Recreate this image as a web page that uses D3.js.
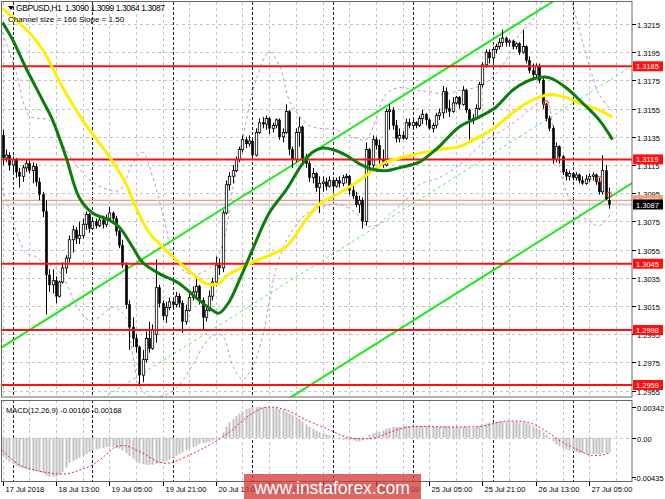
<!DOCTYPE html>
<html><head><meta charset="utf-8">
<script src="https://cdn.jsdelivr.net/npm/d3@7/dist/d3.min.js"></script>
<style>
body{margin:0;background:#fff}
svg{display:block}
text{font-family:"Liberation Sans",Arial,sans-serif;white-space:pre}
</style>
</head><body>
<svg id="c" width="665" height="499"></svg>
<script>
// ---------- DATA ----------
const symbolTitle = "GBPUSD,H1  1.3090 1.3099 1.3084 1.3087";
const channelTitle = "Channel size = 166 Slope = 1.50";
const macdTitle = "MACD(12,26,9) -0.00160 -0.00168";

// hourly candles [open, high, low, close], 17 Jul 21:00 .. 27 Jul 11:00
const candles = [
[1.3136,1.3140,1.3115,1.3120],[1.3120,1.3126,1.3117,1.3122],[1.3122,1.3124,1.3111,1.3115],[1.3115,1.3121,1.3110,1.3119],
[1.3119,1.3120,1.3106,1.3110],[1.3110,1.3113,1.3099,1.3107],[1.3107,1.3115,1.3103,1.3113],[1.3113,1.3119,1.3110,1.3116],
[1.3116,1.3118,1.3109,1.3111],[1.3111,1.3117,1.3102,1.3114],[1.3114,1.3116,1.3100,1.3103],[1.3103,1.3106,1.3090,1.3094],
[1.3094,1.3096,1.3078,1.3082],[1.3082,1.3090,1.3009,1.3037],[1.3037,1.3041,1.3025,1.3030],[1.3030,1.3041,1.3024,1.3033],
[1.3033,1.3036,1.3017,1.3022],[1.3022,1.3033,1.3021,1.3032],[1.3032,1.3046,1.3031,1.3042],[1.3042,1.3051,1.3038,1.3049],
[1.3049,1.3065,1.3046,1.3062],[1.3062,1.3072,1.3053,1.3069],[1.3069,1.3071,1.3059,1.3063],[1.3063,1.3075,1.3059,1.3065],
[1.3065,1.3077,1.3063,1.3073],[1.3073,1.3082,1.3069,1.3080],[1.3080,1.3081,1.3067,1.3070],[1.3070,1.3077,1.3069,1.3075],
[1.3075,1.3077,1.3070,1.3072],[1.3072,1.3078,1.3071,1.3076],[1.3076,1.3079,1.3070,1.3073],[1.3073,1.3080,1.3071,1.3077],
[1.3077,1.3085,1.3076,1.3081],[1.3081,1.3082,1.3075,1.3077],[1.3077,1.3079,1.3065,1.3068],[1.3068,1.3069,1.3056,1.3058],
[1.3058,1.3062,1.3042,1.3044],[1.3044,1.3046,1.3013,1.3016],[1.3016,1.3019,1.2984,1.3000],[1.3000,1.3007,1.2986,1.2992],
[1.2992,1.2995,1.2982,1.2986],[1.2986,1.2987,1.2958,1.2966],[1.2966,1.2984,1.2961,1.2977],[1.2977,1.2997,1.2975,1.2992],
[1.2992,1.3004,1.2982,1.2985],[1.2985,1.3002,1.2984,1.2998],[1.2995,1.3048,1.2989,1.3028],[1.3028,1.3030,1.3014,1.3017],
[1.3017,1.3019,1.3005,1.3008],[1.3008,1.3018,1.3003,1.3014],[1.3014,1.3021,1.3012,1.3018],[1.3018,1.3020,1.3013,1.3016],
[1.3016,1.3025,1.3014,1.3022],[1.3022,1.3024,1.3014,1.3017],[1.3017,1.3019,1.2996,1.3004],[1.3004,1.3016,1.3002,1.3012],
[1.3012,1.3024,1.3011,1.3021],[1.3021,1.3029,1.3019,1.3025],[1.3025,1.3036,1.3021,1.3029],[1.3029,1.3030,1.3016,1.3019],
[1.3019,1.3021,1.2998,1.3007],[1.3007,1.3016,1.3004,1.3012],[1.3012,1.3026,1.3011,1.3022],[1.3022,1.3035,1.3019,1.3032],
[1.3032,1.3050,1.3029,1.3044],[1.3044,1.3049,1.3037,1.3042],[1.3042,1.3083,1.3039,1.3081],[1.3081,1.3104,1.3080,1.3101],
[1.3101,1.3110,1.3097,1.3107],[1.3107,1.3115,1.3102,1.3111],[1.3111,1.3121,1.3110,1.3119],[1.3119,1.3128,1.3117,1.3126],
[1.3126,1.3136,1.3124,1.3133],[1.3133,1.3135,1.3127,1.3130],[1.3130,1.3136,1.3128,1.3132],[1.3132,1.3133,1.3120,1.3122],
[1.3122,1.3141,1.3121,1.3138],[1.3138,1.3148,1.3137,1.3145],[1.3145,1.3149,1.3141,1.3144],[1.3144,1.3150,1.3140,1.3148],
[1.3148,1.3149,1.3137,1.3141],[1.3141,1.3145,1.3138,1.3143],[1.3143,1.3148,1.3141,1.3147],[1.3147,1.3148,1.3133,1.3135],
[1.3135,1.3141,1.3131,1.3138],[1.3138,1.3158,1.3137,1.3153],[1.3153,1.3154,1.3122,1.3126],[1.3126,1.3128,1.3113,1.3119],
[1.3119,1.3141,1.3117,1.3138],[1.3138,1.3149,1.3128,1.3142],[1.3142,1.3143,1.3117,1.3120],[1.3120,1.3123,1.3113,1.3116],
[1.3116,1.3118,1.3103,1.3106],[1.3106,1.3113,1.3102,1.3109],[1.3109,1.3110,1.3096,1.3099],[1.3099,1.3107,1.3081,1.3102],
[1.3102,1.3107,1.3096,1.3103],[1.3103,1.3106,1.3097,1.3100],[1.3100,1.3107,1.3099,1.3104],[1.3104,1.3106,1.3096,1.3100],
[1.3100,1.3106,1.3099,1.3104],[1.3104,1.3107,1.3099,1.3102],[1.3102,1.3108,1.3100,1.3106],[1.3106,1.3109,1.3102,1.3107],
[1.3107,1.3108,1.3094,1.3097],[1.3097,1.3100,1.3091,1.3093],[1.3093,1.3096,1.3085,1.3087],[1.3087,1.3093,1.3081,1.3090],
[1.3090,1.3092,1.3070,1.3075],[1.3075,1.3131,1.3072,1.3126],[1.3126,1.3127,1.3111,1.3115],[1.3115,1.3136,1.3113,1.3133],
[1.3133,1.3135,1.3126,1.3129],[1.3129,1.3133,1.3116,1.3119],[1.3119,1.3126,1.3113,1.3115],[1.3115,1.3155,1.3114,1.3153],
[1.3153,1.3158,1.3140,1.3154],[1.3154,1.3156,1.3140,1.3143],[1.3143,1.3147,1.3131,1.3134],[1.3134,1.3141,1.3131,1.3136],
[1.3136,1.3139,1.3133,1.3134],[1.3134,1.3148,1.3133,1.3145],[1.3145,1.3148,1.3141,1.3143],[1.3143,1.3148,1.3140,1.3145],
[1.3145,1.3146,1.3141,1.3143],[1.3143,1.3150,1.3142,1.3148],[1.3148,1.3154,1.3144,1.3151],[1.3151,1.3152,1.3143,1.3147],
[1.3147,1.3148,1.3140,1.3141],[1.3141,1.3145,1.3138,1.3143],[1.3143,1.3152,1.3141,1.3150],[1.3150,1.3155,1.3147,1.3152],
[1.3152,1.3171,1.3148,1.3167],[1.3167,1.3170,1.3152,1.3155],[1.3155,1.3161,1.3149,1.3153],[1.3153,1.3163,1.3152,1.3159],
[1.3159,1.3164,1.3158,1.3163],[1.3163,1.3164,1.3155,1.3158],[1.3158,1.3171,1.3157,1.3168],[1.3168,1.3169,1.3152,1.3154],
[1.3154,1.3155,1.3133,1.3147],[1.3147,1.3151,1.3144,1.3148],[1.3148,1.3158,1.3147,1.3155],[1.3155,1.3174,1.3154,1.3172],
[1.3172,1.3188,1.3170,1.3186],[1.3186,1.3197,1.3184,1.3195],[1.3195,1.3197,1.3187,1.3191],[1.3191,1.3199,1.3188,1.3197],
[1.3197,1.3201,1.3194,1.3199],[1.3199,1.3205,1.3197,1.3202],[1.3202,1.3211,1.3199,1.3205],[1.3205,1.3206,1.3199,1.3202],
[1.3202,1.3204,1.3199,1.3203],[1.3203,1.3204,1.3197,1.3199],[1.3199,1.3202,1.3197,1.3201],[1.3201,1.3202,1.3193,1.3195],
[1.3195,1.3211,1.3194,1.3199],[1.3199,1.3200,1.3187,1.3189],[1.3189,1.3192,1.3180,1.3182],[1.3182,1.3187,1.3175,1.3179],
[1.3179,1.3187,1.3177,1.3185],[1.3185,1.3187,1.3173,1.3175],[1.3175,1.3177,1.3155,1.3158],[1.3158,1.3159,1.3146,1.3148],
[1.3148,1.3150,1.3139,1.3141],[1.3141,1.3143,1.3116,1.3119],[1.3119,1.3131,1.3117,1.3128],[1.3128,1.3129,1.3116,1.3121],
[1.3121,1.3122,1.3108,1.3110],[1.3110,1.3112,1.3104,1.3107],[1.3107,1.3111,1.3104,1.3109],[1.3109,1.3110,1.3104,1.3106],
[1.3106,1.3110,1.3104,1.3108],[1.3108,1.3109,1.3102,1.3104],[1.3104,1.3107,1.3101,1.3102],[1.3102,1.3108,1.3101,1.3105],
[1.3105,1.3109,1.3103,1.3107],[1.3107,1.3110,1.3104,1.3108],[1.3108,1.3109,1.3101,1.3103],[1.3103,1.3106,1.3094,1.3096],
[1.3096,1.3122,1.3094,1.3111],[1.3111,1.3115,1.3090,1.3091],[1.3090,1.3099,1.3084,1.3087]
];

// moving averages [bar, price]
const yellowMA = [[0,1.3226],[8,1.3209],[12,1.3197],[15,1.3184],[19,1.3166],[24,1.3147],[32,1.3121],[37,1.3102],[40,1.3085],
[44,1.3067],[48,1.3057],[53,1.3046],[57,1.3038],[61,1.3031],[65,1.3031],[67,1.3036],[75,1.3046],[85,1.3057],[91,1.3076],
[95,1.3087],[101,1.3095],[107,1.3104],[111,1.3111],[115,1.3117],[121,1.3121],[131,1.3126],[137,1.3128],[143,1.3135],
[148,1.3142],[153,1.3152],[158,1.3160],[161,1.3163],[164,1.3165],[169,1.3163],[174,1.3158],[179,1.3154],[183,1.3149]];
const greenMA = [[0,1.3216],[3,1.3204],[7,1.3184],[12,1.3161],[15,1.3147],[19,1.3121],[23,1.3092],[27,1.3081],[32,1.3076],
[35,1.3071],[39,1.3057],[42,1.3046],[47,1.3038],[53,1.3031],[58,1.3021],[63,1.3012],[65,1.3010],[68,1.3018],[71,1.3033],
[75,1.3055],[80,1.3081],[85,1.3097],[90,1.3116],[93,1.3124],[96,1.3127],[99,1.3126],[103,1.3122],[107,1.3116],[111,1.3112],
[115,1.3111],[119,1.3113],[125,1.3117],[129,1.3124],[131,1.3128],[137,1.3142],[143,1.3149],[148,1.3156],[153,1.3168],
[157,1.3174],[161,1.3177],[164,1.3177],[169,1.3170],[174,1.3159],[179,1.3147],[183,1.3133]];

// envelope bands [bar, price]
const bandUpper = [[0,1.3209],[4,1.3181],[8,1.3150],[11,1.3148],[14,1.3147],[19,1.3126],[25,1.3107],[30,1.3099],[35,1.3097],
[39,1.3116],[42,1.3124],[45,1.3107],[49,1.3071],[51,1.3051],[55,1.3039],[59,1.3038],[63,1.3044],[66,1.3058],[69,1.3097],
[72,1.3133],[76,1.3175],[80,1.3195],[83,1.3186],[86,1.3161],[89,1.3150],[92,1.3143],[95,1.3141],[100,1.3140],[104,1.3136],
[109,1.3133],[112,1.3147],[115,1.3165],[119,1.3170],[124,1.3168],[128,1.3167],[133,1.3165],[137,1.3168],[142,1.3170],
[146,1.3175],[151,1.3189],[155,1.3207],[160,1.3221],[164,1.3239],[169,1.3238],[173,1.3211],[176,1.3186],[179,1.3165],[183,1.3153]];
const bandLower = [[0,1.3099],[3,1.3076],[7,1.3053],[10,1.3050],[12,1.3046],[16,1.3042],[19,1.3032],[22,1.3016],[26,1.3005],
[29,1.3007],[33,1.3014],[37,1.3007],[39,1.2982],[41,1.2959],[44,1.2951],[49,1.2952],[53,1.2959],[58,1.2977],[60,1.2986],
[63,1.2994],[66,1.2994],[69,1.2973],[72,1.2963],[75,1.2972],[78,1.2993],[80,1.3017],[82,1.3041],[86,1.3065],[91,1.3080],
[95,1.3085],[101,1.3087],[106,1.3081],[109,1.3072],[112,1.3072],[116,1.3080],[121,1.3090],[125,1.3101],[131,1.3106],
[137,1.3115],[142,1.3126],[146,1.3134],[151,1.3141],[155,1.3148],[160,1.3158],[163,1.3161],[166,1.3126],[169,1.3097],
[172,1.3083],[176,1.3075],[179,1.3072],[183,1.3082]];

// equidistant channel anchors [bar, price]
const channelUpper = [[0,1.2986],[180,1.3253]];
const channelMiddle = [[0,1.2905],[180,1.3172]];
const channelLower = [[0,1.2822],[180,1.3089]];

// horizontal levels
const levels = [1.3185, 1.3119, 1.3045, 1.2998, 1.2959];
const markLine = 1.3090;
const bidPrice = 1.3087;
const fractalMarks = [[163,1.3159],[179,1.3105],[182,1.3094]];

// MACD histogram per bar, signal [bar, value]
const macdMain = [
-0.0021,-0.0024,-0.0027,-0.0029,-0.0031,-0.0033,-0.0034,-0.0035,-0.0036,-0.0037,-0.0037,-0.0038,-0.0039,-0.0042,-0.0043,-0.00435,
-0.0043,-0.0041,-0.0038,-0.0033,-0.0028,-0.0026,-0.0024,-0.0022,-0.0020,-0.0018,-0.0016,-0.0014,-0.0013,-0.0012,-0.0011,-0.0010,
-0.0010,-0.0010,-0.0011,-0.0012,-0.0014,-0.0017,-0.0020,-0.0023,-0.0026,-0.0028,-0.0029,-0.0030,-0.0030,-0.0030,-0.0029,-0.0028,
-0.0027,-0.0026,-0.0024,-0.0022,-0.0020,-0.0018,-0.0016,-0.0014,-0.0012,-0.0010,-0.0009,-0.0007,-0.0006,-0.0005,-0.0004,-0.0003,
-0.0002,0.0000,0.0006,0.0012,0.0017,0.0021,0.0024,0.0027,0.0030,0.0032,0.0033,0.0034,0.0034,0.00342,0.00342,0.0034,
0.0034,0.0034,0.0033,0.0032,0.0031,0.0029,0.0027,0.0025,0.0023,0.0021,0.0018,0.0015,0.0012,0.0010,0.0008,0.0006,
0.0005,0.0004,0.0003,0.0001,0.0000,-0.0001,-0.0002,-0.0002,-0.0003,-0.0003,-0.0004,-0.0004,-0.0003,0.0000,0.0003,0.0005,
0.0006,0.0007,0.0008,0.0010,0.0011,0.0012,0.0012,0.0012,0.0013,0.0013,0.0013,0.0013,0.0013,0.0013,0.0013,0.0013,
0.0012,0.0012,0.0012,0.0012,0.0013,0.0013,0.0012,0.0012,0.0012,0.0012,0.0012,0.0012,0.0011,0.0011,0.0012,0.0013,
0.0015,0.0016,0.0017,0.0017,0.0018,0.0018,0.0018,0.0018,0.0018,0.0018,0.0018,0.0017,0.0017,0.0016,0.0015,0.0013,
0.0011,0.0009,0.0006,0.0003,-0.0001,-0.0004,-0.0007,-0.0009,-0.0011,-0.0013,-0.0014,-0.0015,-0.0016,-0.0017,-0.0017,-0.0018,
-0.0018,-0.0018,-0.0018,-0.0018,-0.0017,-0.0017,-0.0016
];
const macdSignal = [[0,-0.0014],[5,-0.0030],[10,-0.0036],[14,-0.0039],[19,-0.0040],[23,-0.0036],[27,-0.0030],[31,-0.0019],
[34,-0.0010],[37,-0.0009],[42,-0.0017],[47,-0.0027],[50,-0.0028],[55,-0.0021],[63,-0.0006],[68,0.0006],[73,0.0022],
[78,0.0033],[81,0.0034],[85,0.0031],[91,0.0020],[98,0.0009],[103,0.0001],[108,-0.0001],[112,0.0000],[116,0.0006],
[122,0.0012],[134,0.0012],[144,0.0013],[150,0.0018],[156,0.0018],[160,0.0014],[164,0.0005],[168,-0.0005],[173,-0.0014],
[176,-0.0019],[180,-0.0019],[182,-0.00168]];

// axes
const priceTicks = ["1.3215","1.3195","1.3175","1.3155","1.3135","1.3115","1.3095","1.3075","1.3055","1.3035","1.3015","1.2995","1.2975","1.2955"];
const macdTicks = ["0.00342","0.00","-0.00435"];
const timeLabels = ["17 Jul 2018","18 Jul 13:00","19 Jul 05:00","19 Jul 21:00","20 Jul 13:00","23 Jul 05:00","23 Jul 21:00","24 Jul 13:00","25 Jul 05:00","25 Jul 21:00","26 Jul 13:00","27 Jul 05:00"];
const timeLabelBars = [0,16,32,48,64,80,96,112,128,144,160,176];
const daySeparatorBars = [3,27,51,75,99,123,147,171];
const watermark = "www.instaforex.com";

// ---------- DRAW ----------
const svg = d3.select("#c");
const P = {l:2, r:632, t:2, b:397};
const M = {t:400, b:481};
const x = d3.scaleLinear().domain([0,189]).range([2.5,632.5]);
const y = d3.scaleLinear().domain([1.29505,1.32306]).range([P.b,P.t]);
const ym = d3.scaleLinear().domain([-0.00435,0.00342]).range([477,407]);

const defs = svg.append("defs");
defs.append("clipPath").attr("id","cp").append("rect").attr("x",P.l).attr("y",P.t).attr("width",P.r-P.l).attr("height",P.b-P.t);
defs.append("clipPath").attr("id","cm").append("rect").attr("x",P.l).attr("y",M.t).attr("width",P.r-P.l).attr("height",M.b-M.t);

const gMain = svg.append("g").attr("clip-path","url(#cp)");
const gMacd = svg.append("g").attr("clip-path","url(#cm)");

// grids
const gridBars = d3.range(0,189,8);
[[gMain,P.t,P.b],[gMacd,M.t,M.b]].forEach(([g,t,b])=>{
  g.selectAll(null).data(gridBars).join("line")
   .attr("x1",d=>Math.round(x(d))+0.5).attr("x2",d=>Math.round(x(d))+0.5).attr("y1",t).attr("y2",b)
   .attr("stroke","#c4c4c4").attr("stroke-dasharray","3,3");
  g.selectAll(null).data(daySeparatorBars).join("line")
   .attr("x1",d=>Math.round(x(d))+0.5).attr("x2",d=>Math.round(x(d))+0.5).attr("y1",t).attr("y2",b)
   .attr("stroke","#222").attr("stroke-dasharray","3,2");
});
gMain.selectAll(null).data(priceTicks).join("line")
  .attr("x1",P.l).attr("x2",P.r).attr("y1",d=>Math.round(y(+d))+0.5).attr("y2",d=>Math.round(y(+d))+0.5)
  .attr("stroke","#c4c4c4").attr("stroke-dasharray","3,3");
gMacd.append("line").attr("x1",P.l).attr("x2",P.r).attr("y1",Math.round(ym(0))+0.5).attr("y2",Math.round(ym(0))+0.5)
  .attr("stroke","#c4c4c4").attr("stroke-dasharray","3,3");

// mark line + bid line
gMain.append("line").attr("x1",P.l).attr("x2",P.r).attr("y1",y(markLine)).attr("y2",y(markLine)).attr("stroke","#ff9a70").attr("stroke-width",1.2);
gMain.append("line").attr("x1",P.l).attr("x2",P.r).attr("y1",y(bidPrice)).attr("y2",y(bidPrice)).attr("stroke","#d0d0d0").attr("stroke-width",2);

// bands
const lineP = d3.line().x(d=>x(d[0])).y(d=>y(d[1])).curve(d3.curveCatmullRom.alpha(0.5));
[bandUpper,bandLower].forEach(b=>{
  gMain.append("path").attr("d",lineP(b)).attr("fill","none").attr("stroke","#c98be6").attr("stroke-width",1).attr("stroke-dasharray","3,3");
});

// channel
const chLine = (a, dash, col, w)=>{
  const s=(a[1][1]-a[0][1])/(a[1][0]-a[0][0]);
  const b0=-2, b1=190;
  gMain.append("line").attr("x1",x(b0)).attr("y1",y(a[0][1]+s*(b0-a[0][0])))
    .attr("x2",x(b1)).attr("y2",y(a[0][1]+s*(b1-a[0][0])))
    .attr("stroke",col).attr("stroke-width",w).attr("stroke-dasharray",dash);
};
chLine(channelUpper,null,"#22e622",2);
chLine(channelLower,null,"#22e622",2);
chLine(channelMiddle,"3,3","#55ee55",1);

// candles
const cg = gMain.append("g");
candles.forEach((c,i)=>{
  const cx = Math.round(x(i))+0.5;
  const [o,h,l,cl]=c;
  cg.append("line").attr("x1",cx).attr("x2",cx).attr("y1",y(h)).attr("y2",y(l)).attr("stroke","#000").attr("stroke-width",1);
  const top=y(Math.max(o,cl)), bot=y(Math.min(o,cl));
  const bull = cl>=o;
  cg.append("rect").attr("x",cx-1.2).attr("width",2.4).attr("y",top).attr("height",Math.max(0.8,bot-top))
    .attr("fill",bull?"#fff":"#000").attr("stroke","#000").attr("stroke-width",bull?0.8:0.4);
});

// levels
gMain.selectAll(null).data(levels).join("line")
  .attr("x1",P.l).attr("x2",P.r).attr("y1",d=>y(d)).attr("y2",d=>y(d))
  .attr("stroke","#ff1010").attr("stroke-width",2);

// MAs
gMain.append("path").attr("d",lineP(yellowMA)).attr("fill","none").attr("stroke","#ffee00").attr("stroke-width",3);
gMain.append("path").attr("d",lineP(greenMA)).attr("fill","none").attr("stroke","#0a7d0a").attr("stroke-width",3);

// fractal circles
gMain.selectAll(null).data(fractalMarks).join("circle")
  .attr("cx",d=>x(d[0])).attr("cy",d=>y(d[1])).attr("r",2.5).attr("fill","none").attr("stroke","#e04040").attr("stroke-width",1);

// MACD
gMacd.selectAll(null).data(macdMain).join("line")
  .attr("x1",(d,i)=>Math.round(x(i))+0.5).attr("x2",(d,i)=>Math.round(x(i))+0.5)
  .attr("y1",ym(0)).attr("y2",d=>ym(d)).attr("stroke","#c0c0c0").attr("stroke-width",2);
gMacd.append("path").attr("d",d3.line().x(d=>x(d[0])).y(d=>ym(d[1])).curve(d3.curveCatmullRom.alpha(0.5))(macdSignal))
  .attr("fill","none").attr("stroke","#ff2020").attr("stroke-width",1).attr("stroke-dasharray","2,2");

// frames
svg.append("rect").attr("x",1.5).attr("y",1.5).attr("width",P.r-1.5).attr("height",P.b-1.5).attr("fill","none").attr("stroke","#666").attr("stroke-width",1);
svg.append("rect").attr("x",1.5).attr("y",M.t+0.5).attr("width",P.r-1.5).attr("height",M.b-M.t).attr("fill","none").attr("stroke","#666").attr("stroke-width",1);

// price axis
const ax = svg.append("g");
priceTicks.forEach(t=>{
  const yy=Math.round(y(+t))+0.5;
  ax.append("line").attr("x1",P.r).attr("x2",P.r+4).attr("y1",yy).attr("y2",yy).attr("stroke","#000");
  ax.append("text").attr("x",637).attr("y",yy+3).attr("font-size",7.5).attr("fill","#000").text(t);
});
// macd axis
macdTicks.forEach(t=>{
  const yy=Math.round(ym(+t))+0.5;
  ax.append("line").attr("x1",P.r).attr("x2",P.r+4).attr("y1",yy).attr("y2",yy).attr("stroke","#000");
  ax.append("text").attr("x",t.startsWith("-")?634:637).attr("y",yy+3).attr("font-size",7.5).attr("fill","#000").text(t);
});
// level labels
const lab=(v,bg,fg)=>{
  const yy=y(v);
  ax.append("rect").attr("x",P.r+1).attr("y",yy-5).attr("width",30).attr("height",10).attr("fill",bg);
  ax.append("text").attr("x",636).attr("y",yy+3).attr("font-size",7.5).attr("fill",fg).text(d3.format(".4f")(v));
};
levels.forEach(v=>lab(v,"#ff1010","#fff"));
lab(markLine,"#ff9a70","#fff");
lab(bidPrice,"#000","#fff");

// time axis
timeLabelBars.forEach((b,i)=>{
  const xx=Math.round(x(b))+0.5;
  ax.append("line").attr("x1",xx).attr("x2",xx).attr("y1",M.b+1).attr("y2",M.b+5).attr("stroke","#000");
  ax.append("text").attr("x",xx+2).attr("y",492).attr("font-size",7.5).attr("fill","#000").text(timeLabels[i]);
});

// titles
svg.append("path").attr("d","M8,6 L14,6 L11,10 Z").attr("fill","#000");
svg.append("text").attr("x",16).attr("y",11).attr("font-size",8.5).attr("fill","#000")
  .attr("textLength",149).attr("lengthAdjust","spacing").text(symbolTitle);
svg.append("text").attr("x",8).attr("y",22).attr("font-size",8).attr("fill","#000").text(channelTitle);
svg.append("text").attr("x",6).attr("y",413).attr("font-size",7.5).attr("fill","#000").text(macdTitle);

// watermark
svg.append("rect").attr("x",244).attr("y",474).attr("width",177).attr("height",26).attr("fill","#d23c3c").attr("opacity",0.78);
svg.append("text").attr("x",332).attr("y",494).attr("text-anchor","middle").attr("font-size",17.5).attr("fill","#fff").text(watermark);
</script>
</body></html>
